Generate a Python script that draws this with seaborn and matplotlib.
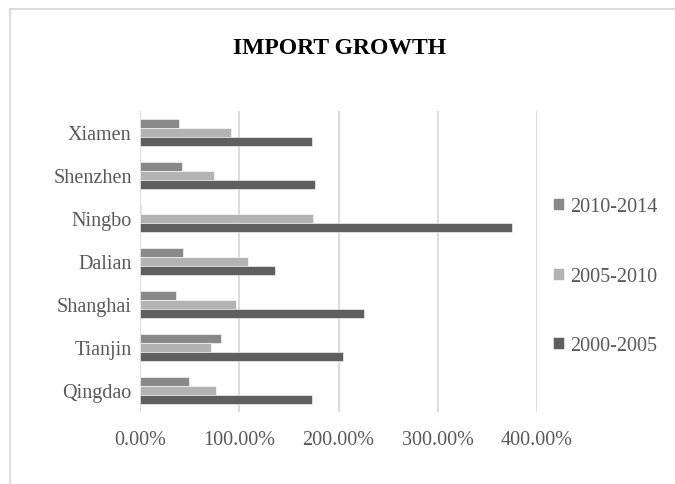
import matplotlib
matplotlib.use("Agg")
import matplotlib.pyplot as plt
from matplotlib.patches import Rectangle
from matplotlib.ticker import PercentFormatter, MultipleLocator
import seaborn as sns
import pandas as pd

# Import growth by port (percent)
ports = ["Xiamen", "Shenzhen", "Ningbo", "Dalian", "Shanghai", "Tianjin", "Qingdao"]
periods = ["2010-2014", "2005-2010", "2000-2005"]
growth_2010_2014 = [39.6, 42.3, 1.5, 43.6, 36.0, 81.6, 49.4]
growth_2005_2010 = [91.7, 74.9, 174.6, 109.1, 96.7, 71.5, 76.9]
growth_2000_2005 = [173.0, 176.6, 374.8, 136.3, 226.0, 204.5, 173.3]

df = pd.DataFrame({
    "port": ports * 3,
    "period": [p for p in periods for _ in ports],
    "growth": growth_2010_2014 + growth_2005_2010 + growth_2000_2005,
})

palette = {"2010-2014": "#898989", "2005-2010": "#b3b3b3", "2000-2005": "#5f5f5f"}
text_color = "#595959"
grid_color = "#d9d9d9"

sns.set_theme(style="white")
plt.rcParams["font.family"] = ["Liberation Serif", "DejaVu Serif"]

fig = plt.figure(figsize=(6.75, 4.85), dpi=100)
ax = fig.add_axes([0.2074, 0.149, 0.5882, 0.6206])

sns.barplot(data=df, y="port", x="growth", hue="period", order=ports,
            hue_order=periods, palette=palette, width=0.63, orient="h",
            edgecolor="white", linewidth=0.4, saturation=1, ax=ax)

ax.set_xlim(0, 400)
ax.xaxis.set_major_locator(MultipleLocator(100))
ax.xaxis.set_major_formatter(PercentFormatter(decimals=2))
ax.grid(axis="x", color=grid_color, linewidth=1.3)
ax.set_axisbelow(True)
for s in ax.spines.values():
    s.set_visible(False)
ax.set_xlabel("")
ax.set_ylabel("")
ax.tick_params(axis="both", length=0, labelsize=14.5, colors=text_color)
ax.tick_params(axis="x", pad=13)
ax.tick_params(axis="y", pad=6)

fig.text(340 / 675, 1 - 49 / 485, "IMPORT GROWTH", fontsize=17,
         fontweight="bold", color="black", ha="center", va="center")

handles, labels = ax.get_legend_handles_labels()
ax.legend(handles, labels, loc="center left", bbox_to_anchor=(0.995, 0.45),
          frameon=False, fontsize=14.5, labelcolor=text_color,
          handlelength=0.55, handleheight=0.55, handletextpad=0.3,
          labelspacing=2.5)

# chart frame
fig.patches.append(Rectangle((10 / 675, -0.05), 1.2, 1 - 10 / 485 + 0.05,
                             transform=fig.transFigure, fill=False,
                             edgecolor=grid_color, linewidth=1.3))

fig.savefig("out.png", dpi=100)
